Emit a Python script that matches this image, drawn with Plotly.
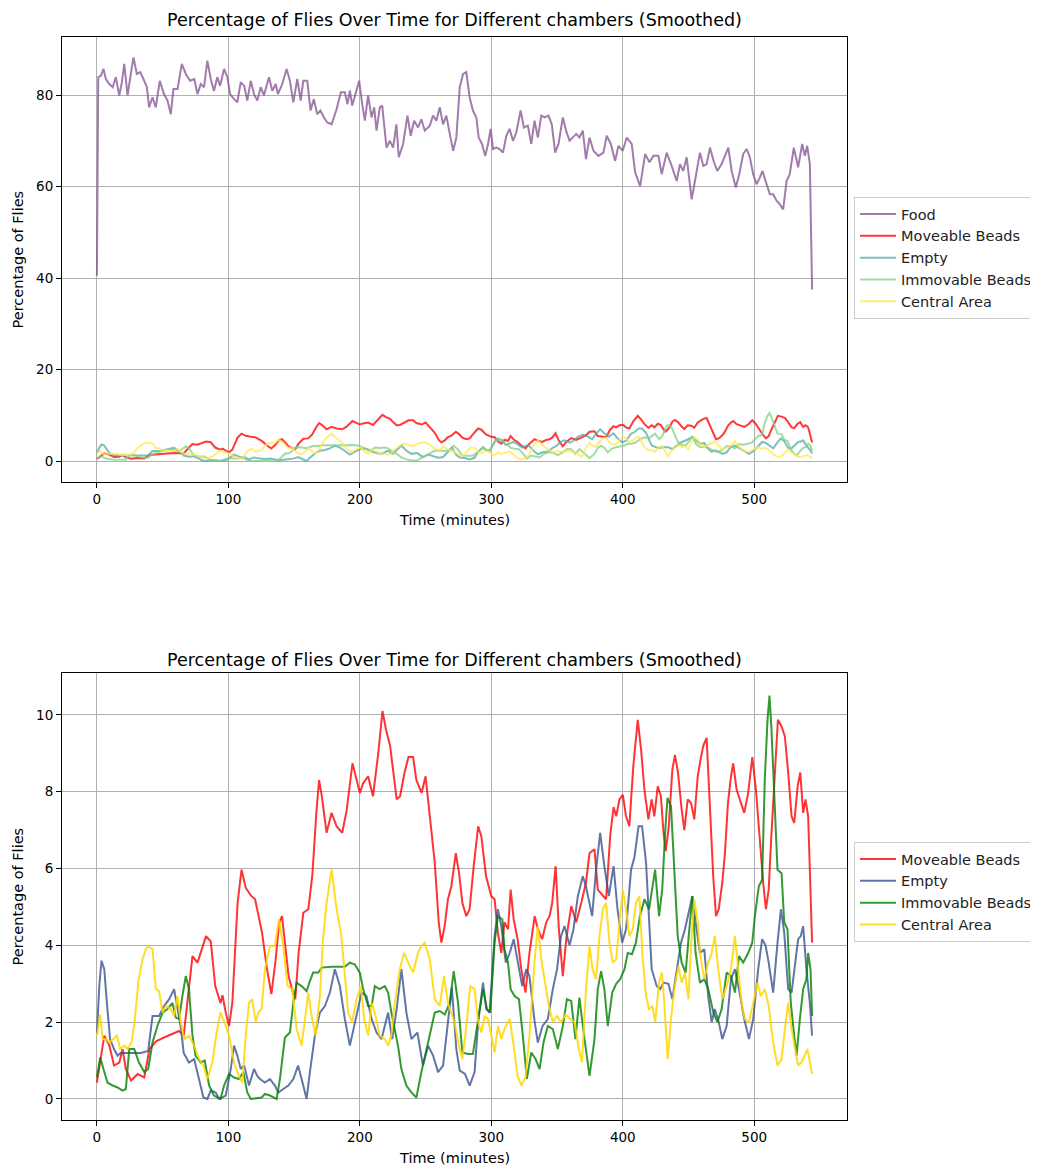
import plotly.graph_objects as go

# ---------------- data (time in minutes, percentage of flies) ----------------
FOOD = [(0,40.5),(0.5,83),(1,83.9),(3,84.2),(5,85.7),(6.8,83.5),(9.4,82.4),(12,81.7),(14.4,83.9),(17,79.9),(19,82.8),(20.8,86.8),(23.3,79.9),(25.8,84.6),(27.8,88.2),(30.4,84.6),(32.9,85),(35.4,83.5),(38,81.7),(39.7,77.3),(42.3,79.5),(44.8,77.3),(47.8,83.1),(51,80.2),(53.7,78.8),(56.2,75.8),(58.2,81.3),(61.3,81.3),(64.6,86.8),(67.6,84.6),(70.9,83.1),(74,83.5),(76.5,80.2),(79,82.4),(81.5,81.7),(84,87.5),(86.6,83.5),(89,80.9),(91.6,83.9),(93.7,82),(96.7,85.7),(99.2,83.9),(101.3,80.2),(104.3,79.1),(106.8,78.4),(109.4,82.8),(112,82),(114.4,78.8),(117,83.1),(119.5,80.2),(122,78.8),(124.6,81.7),(127,79.9),(130.9,83.9),(133.4,80.9),(136,82.4),(137.7,80.2),(141,82.4),(144.3,85.7),(146.8,83.1),(149.4,78.4),(152.4,83.5),(155,78.8),(157,83.1),(160,83.1),(162.5,76.6),(165,79.1),(167.6,75.8),(170,76.6),(172.7,75.1),(175.2,74),
        (178.5,73.6),(182.3,76.9),(185.6,80.6),(188.6,80.6),(190.6,78),(192.4,81),(194.2,77.7),(196.7,80.2),(199.5,83.1),(201.8,78),(203.8,74.4),(206.3,79.9),(208.9,75.1),(210.9,77.3),(212.7,72.2),(215.2,77.3),(217,77.7),(220.3,68.5),(222.8,70),(225.3,68.5),(227.8,73.6),(229.6,66.4),(232.9,69.3),(236.2,75.5),(238.7,71.1),(241.3,74.4),(244.3,72.9),(246.8,74.7),(249.4,72.2),(253.2,73.3),(255.7,75.5),(258.2,74.4),(260.8,77.3),(263.3,73.6),(265.8,75.5),(268.4,71.5),(271,67.8),(273.4,70.7),(276,81.7),(278.5,84.6),(281,85),(283.5,79.5),(286,76.6),(288.6,75.1),(290.4,70.7),(292.9,69.3),(295.4,66.7),(297.5,69.3),(299.5,72.6),(301.3,68.2),(303.8,68.5),(306.3,68.2),(308.9,67.4),(311.4,71.1),(313.9,72.6),(316.5,70),(319,71.8),(322.3,76.6),(324.8,72.9),(327.8,73.3),(330.4,69.3),(332.9,74.4),(335.4,70.7),(338,75.5),(340.5,75.1),(343.5,75.5),(346,73.6),(348.6,67.4),(351.1,69.3),(354.4,75.1),(356.9,72.2),(359.5,70),(362,70.7),(364.6,71.5),(367,70.7),(369.6,72.2),(372,66),(374.7,70.7),
        (377.7,67.8),(381.5,66.7),(385.3,67.4),(387.8,71.1),(390.9,69.3),(394.2,65.6),(396.7,68.9),(400,67.8),(403,70.7),(406.8,69.3),(409.4,63.1),(413.2,60.1),(417,67.1),(420.3,65.3),(423.3,66.7),(427.1,66.7),(429.6,62.7),(433.4,67.4),(437.2,64.5),(441,61.2),(443.5,64.9),(446,63.4),(448.6,66.4),(450.6,61.2),(452.4,57.2),(454.9,61.2),(458.7,67.4),(461.3,64.5),(463.8,64.9),(466.3,68.5),(469.4,65.3),(471.9,63.4),(475.2,64.9),(477.7,66.7),(480.3,68.5),(482.8,63.4),(486,59.8),(488.6,62.7),(491.6,67.1),(494.2,68.2),(496.7,66.4),(499.2,62.7),(501.8,60.5),(504.3,62),(506.3,63.4),(509.4,60.5),(511.9,58.3),(514.4,58.3),(517,56.9),(519.5,56.1),(522,55),(524.6,61.2),(527,62.7),(530.1,68.5),(533.4,64.2),(536.5,69.3),(538.5,66.7),(540.3,68.9),(542.3,64.9),(544,37.5)]

MOVEABLE_T = [0, 4.3, 5.6, 9.4, 13, 17, 19.5, 22, 26, 31, 36, 40, 45, 51, 59, 62.5, 66, 70, 72.7, 76.5, 80, 83, 86.6, 90, 94, 95.5, 98, 100.5, 103, 107, 110, 113.2, 117, 120.3, 123, 125.6, 129.4, 132.7, 135.7, 138.7, 140.8, 143.3, 145.8, 148.4, 150.9, 153.4, 157, 160.8, 163.8, 167, 169, 171, 174.7, 178.5, 182.3, 186.6, 189.9, 194.4, 197.5, 200, 202.5, 206.3, 210, 214, 217.2, 220, 223, 225.6, 228, 230.6, 234, 237, 240.5, 243, 247, 250, 253, 257, 260, 262, 264.5, 267, 269.6, 273, 275.4, 278, 281, 283.5, 286.6, 290, 292.4, 296, 300, 302.5, 305, 307.6, 310, 312.7, 314.7, 317, 320, 322.8, 326, 329, 333, 335.4, 338.7, 341.8, 344.3, 346.3, 348.9, 351.4, 354.4, 357, 360.8, 364.6, 368.4, 372, 374.7, 378.5, 381, 384.8, 387.3, 390.4, 393, 395, 397.5, 400, 402.5, 405, 408, 411.4, 413.9, 416.5, 419.5, 422, 424, 426.6, 429, 431, 432.7, 435, 437.7, 439.7, 442, 444.8, 446.8, 449.4, 452, 454.4, 457, 459.5, 461.3, 463.8, 466.3, 468.8, 470.9, 473, 475.7, 477.7, 480, 482.3, 484, 486.6, 489, 492.4, 495.4, 498.5, 501.3, 504.3, 506.8, 508.9, 511, 513, 515.7, 518, 520.8, 523.3, 525.8, 528.4, 530.4, 533, 535, 537.2, 539, 541, 542.3, 544]
MOVEABLE_V = [0.43, 1.3, 1.65, 1.4, 0.87, 0.95, 1.3, 0.78, 0.48, 0.65, 0.56, 1.3, 1.5, 1.6, 1.73, 1.77, 1.65, 2.94, 3.72, 3.55, 3.9, 4.24, 4.1, 2.94, 2.5, 2.7, 2.25, 1.9, 2.5, 5.1, 5.97, 5.5, 5.3, 5.2, 4.76, 4.33, 3.38, 2.73, 3.55, 4.6, 4.76, 3.98, 3.2, 2.86, 2.6, 3.8, 4.85, 4.94, 5.8, 7.5, 8.3, 7.9, 6.93, 7.45, 7.1, 6.93, 7.5, 8.74, 8.3, 7.97, 8.22, 8.4, 7.88, 9.0, 10.1, 9.6, 9.2, 8.4, 7.8, 7.88, 8.5, 8.9, 8.9, 8.3, 7.97, 8.4, 7.45, 6.15, 4.6, 4.07, 4.5, 5.2, 5.54, 6.4, 5.9, 5.1, 4.76, 4.94, 6.06, 7.1, 6.84, 5.8, 5.28, 5.2, 4.33, 3.8, 4.6, 4.42, 5.45, 4.68, 4.16, 3.38, 2.77, 3.8, 4.76, 4.42, 4.16, 4.6, 4.76, 5.1, 6.06, 4.42, 3.2, 4.16, 5.02, 4.6, 5.1, 5.63, 6.4, 6.5, 5.45, 5.28, 5.2, 6.84, 7.6, 7.36, 7.8, 7.92, 7.36, 7.1, 8.66, 9.87, 9.1, 8.05, 7.28, 7.8, 7.36, 8.14, 7.88, 6.93, 6.45, 7.1, 8.57, 8.96, 8.5, 7.53, 7.0, 7.8, 7.7, 7.28, 8.4, 8.9, 9.2, 9.4, 7.7, 5.8, 4.76, 4.94, 5.63, 6.4, 7.7, 8.4, 8.74, 8.05, 7.8, 7.45, 7.97, 8.9, 8.05, 6.58, 5.63, 4.94, 5.45, 6.84, 8.57, 9.87, 9.7, 9.44, 8.5, 7.36, 7.19, 8.14, 8.5, 7.45, 7.8, 7.36, 5.97, 4.07]

EMPTY_T = [0, 1.8, 3.5, 5.6, 7.6, 10, 13, 15.7, 18, 22, 27, 33.4, 39, 42.3, 47.3, 51, 55, 58.7, 61, 64, 66, 70, 74, 77.7, 81, 84, 86.6, 90.4, 93, 98, 101.8, 104.3, 106.8, 109.4, 112, 115.7, 119.5, 122, 124, 127.8, 131.6, 135.4, 138, 141.8, 145.6, 149.4, 153, 155.7, 159.5, 162, 165.8, 169.6, 173.4, 177.2, 181, 184.8, 188.6, 192.4, 196.2, 201.3, 205, 209, 212.7, 216.5, 221.5, 224.6, 228, 231.6, 235.4, 239.2, 243.8, 248, 252, 255.7, 259.5, 263.3, 267, 270, 273.4, 276, 280, 283.5, 287.3, 290, 293.7, 296.2, 298.7, 302.5, 305, 307.6, 311, 314, 317, 320, 323.5, 326.6, 329, 333, 335.4, 339, 343, 346.8, 350, 353, 355.7, 359.5, 362.5, 365.8, 369.6, 372, 376.7, 379.7, 382.8, 386, 389.4, 393, 396, 399.5, 402.5, 406.3, 408.9, 412, 414.7, 417.7, 419, 422, 425.8, 428.4, 431, 434.7, 437.7, 441, 444.3, 447.3, 450.4, 452.9, 455.4, 458.7, 462, 465, 467.6, 470, 473, 475.7, 479, 482.3, 485.3, 488.4, 492.4, 496, 499.2, 503, 506, 508.6, 511, 514.4, 517.7, 520.3, 522.8, 525.8, 528.4, 531, 533.4, 535.4, 537.2, 539.7, 542.3, 544]
EMPTY_V = [1.7, 2.94, 3.6, 3.38, 2.5, 1.56, 1.3, 1.13, 1.2, 1.2, 1.2, 1.2, 1.25, 2.16, 2.16, 2.42, 2.6, 2.86, 2.42, 1.82, 1.2, 0.95, 1.04, 0.52, 0.04, 0, 0.22, 0.17, 0, 0.09, 0.78, 1.39, 1.13, 0.78, 0.87, 0.35, 0.78, 0.6, 0.52, 0.43, 0.52, 0.35, 0.17, 0.26, 0.35, 0.52, 0.87, 0.52, 0, 0.7, 1.65, 2.25, 2.42, 2.77, 3.38, 2.94, 2.08, 1.39, 2.0, 2.77, 2.68, 2.08, 1.73, 1.56, 2.25, 1.56, 2.34, 3.38, 2.25, 1.56, 1.73, 0.87, 1.39, 1.13, 0.7, 0.87, 2.0, 2.9, 1.3, 0.74, 0.65, 0.35, 0.7, 2.0, 3.03, 2.34, 2.25, 4.24, 4.94, 4.5, 3.55, 3.8, 4.16, 3.64, 2.94, 3.38, 3.2, 2.0, 1.47, 1.9, 2.08, 2.86, 3.38, 4.24, 4.5, 4.0, 4.42, 5.28, 5.8, 5.54, 4.76, 5.97, 6.93, 6.06, 5.28, 6.06, 4.94, 4.07, 4.42, 5.97, 6.3, 7.1, 7.1, 6.15, 5.3, 3.38, 2.94, 2.86, 3.03, 3.0, 2.6, 3.38, 4.07, 4.42, 4.94, 5.28, 4.6, 3.8, 3.9, 2.68, 2.0, 2.34, 2.0, 1.56, 1.9, 3.12, 3.38, 2.86, 2.08, 1.56, 2.08, 3.38, 4.16, 4.0, 3.55, 2.77, 4.07, 4.94, 4.33, 2.86, 2.77, 3.55, 4.16, 4.24, 4.5, 3.38, 2.5, 1.65]

IMMOVABLE = [(0,0.56),(2.5,1.08),(5,0.78),(8,0.43),(12,0.35),(15.7,0.3),(19.5,0.22),(22,0.26),(24.6,1.3),(28.4,1.3),(32,0.95),(36,0.7),(39,0.78),(42.3,1.47),(46,1.9),(50,2.25),(53.7,2.34),(57.5,2.5),(60,2.12),(62.5,2.08),(65,2.68),(67.6,3.2),(70,2.86),(72.7,1.65),(75,1.13),(79,0.95),(82,1.0),(85.3,0.35),(89,0.09),(94,0),(96.7,0.35),(100.5,0.65),(104.3,0.56),(108,0.52),(111.4,0.7),(114.4,0.17),(117,0),
             (125.3,0.04),(127.8,0.13),(131.6,0.09),(136.7,0),(139.2,0.52),(143,1.6),(146.8,1.73),(149.4,2.5),(151.9,3.03),(155.7,2.94),(159.5,2.81),(162,3.07),(164.5,3.29),(168.4,3.29),(171,3.42),(178.5,3.44),(188.6,3.44),(192.4,3.55),(196.2,3.5),(200,3.29),(202.5,2.86),(206.3,2.42),(209,2.42),(211.4,2.94),(215,2.86),(219,2.94),(221.5,2.77),(224,2.25),(226.6,1.82),(229,1.39),(231.6,0.78),(235.4,0.35),(239.2,0.17),(243,0.04),(246.8,0.7),(250.6,1.3),(254.4,1.82),(257,2.25),(260.8,2.29),(264.6,2.2),(268.4,2.5),
             (271.4,3.33),(274.7,2.5),(278,1.21),(282.3,1.17),(286,1.17),(290,2.08),(293.7,2.86),(296.7,2.34),(299.2,2.25),(302.5,4.07),(305,4.76),(308.4,4.68),(310,3.9),(312.7,3.55),(314.7,2.86),(317.7,2.68),(321,2.6),(324,1.65),(327,0.52),(330.4,1.21),(333.7,1.04),(336.7,0.78),(339.7,1.47),(343,1.9),(346.8,1.82),(350.6,1.3),(354.4,1.9),(357.5,2.6),(360.8,2.55),(364,1.56),(367,2.64),(370.9,1.56),(374.7,0.6),(378.5,1.56),(381,2.86),(383.5,3.33),(386,2.86),(388.6,1.9),(392,2.77),(395,3.0),(398,3.12),(401.3,3.38),(403.8,3.8),(407,3.77),(410,4.07),(413,4.76),(416.5,5.2),
             (420,4.94),(422.5,5.54),(424.6,5.97),(427.6,4.76),(430,5.45),(432.2,6.93),(434,7.84),(436.7,7.62),(439.2,5.97),(441.8,4.24),(444.8,3.55),(447.8,3.29),(450.4,4.33),(452.9,5.28),(455.4,3.8),(458.7,3.03),(462,3.12),(465,2.86),(468.9,2.25),(472,2.0),(475.2,2.34),(479,3.29),(482.3,3.2),(485.3,2.77),(488.4,3.72),(491.6,3.55),(495.4,3.8),(498.5,4.07),(500.5,4.76),(503.5,5.54),(506,5.71),(508,8.3),(510.1,9.87),(511.6,10.5),(513,9.7),(515.2,7.88),(517.7,5.97),(520.8,5.88),(522.8,4.6),(525.3,4.42),(527.8,2.5),(530.4,1.65),(532.2,1.13),(534.7,2.08),(537.2,2.86),(539.7,3.12),(541,3.8),(542.8,3.38),(544,2.16)]

CENTRAL = [(0,1.65),(1,1.9),(2.5,2.2),(4.3,1.56),(6.8,1.56),(9.4,1.47),(12,1.56),(15.2,1.65),(17.7,1.3),(20.8,1.39),(23.3,1.3),(26.3,1.47),(28.9,2.08),(31.4,3.03),(34.7,3.64),(37.2,3.9),(39,3.98),(42.3,3.9),(44.8,2.86),(47.3,2.81),(49.9,2.25),(52.4,2.42),(56.2,2.34),(58.7,2.16),(61.3,2.68),(63.8,2.0),(66.3,1.56),(70,1.65),(74,1.39),(77.7,1.04),(81,0.87),(84,0.52),(87.8,0.95),(91,1.73),(94,2.25),(97,2.0),(100.5,1.65),(104.3,0.95),(108,0.6),(110.6,0.43),(113.2,1.65),(115.7,2.5),(118,2.6),(120.8,2.0),
           (122.8,2.25),(125.3,2.34),(127.8,3.38),(131.6,3.98),(135.4,3.98),(138.5,4.68),(141.8,3.98),(145,2.94),(148.6,2.86),(151.9,1.82),(155.7,1.39),(158.2,2.0),(160.8,2.77),(163.3,2.16),(166.3,1.65),(169.6,2.68),(172,4.16),(174.7,5.1),(178.5,5.97),(182.3,4.94),(185.6,4.33),(188,3.46),(191.1,2.25),(194.2,2.0),(197.5,2.6),(200.8,2.94),(203.3,2.08),(206.3,1.65),(209,2.5),(212,2.16),(215,1.65),(219,1.56),(221.5,1.39),(224,1.65),(226.6,2.5),(230.4,3.38),(233.7,3.81),(236.7,3.55),(240.5,3.29),(244.3,3.81),(246.8,3.98),(249.4,4.07),(253.2,3.64),(257,2.6),(260.8,2.42),(264,3.2),(267,2.5),
           (272,2.0),(275.4,1.39),(278,1.04),(281,1.9),(284,2.94),(287.3,2.86),(290,2.0),(292.4,1.73),(295,2.16),(297.5,2.08),(300,1.65),(302.5,1.21),(305,1.9),(307.6,1.56),(310,1.82),(314,2.08),(317,1.39),(320,0.6),(322.8,0.35),(326,0.56),(329,1.65),(333,3.64),(335.4,4.5),(338,3.64),(341.3,2.94),(343.8,2.42),(346.8,2.0),(349.9,2.16),(353,2.0),(356.5,2.2),(360,2.08),(363.3,2.0),(366.6,1.3),(369,0.95),(372,2.86),(374.7,3.98),(377,3.38),(379.7,3.12),(382.3,4.24),(384.8,4.94),(387.3,5.1),(389.9,4.07),(392.4,3.55),(395,3.64),(397.5,4.6),(400,5.45),(402.5,4.94),(405,4.24),(407.6,4.42),(410,5.1),(412.6,5.28),(415,3.72),(417.7,2.68),
           (420,2.34),(422.5,2.42),(424.6,2.0),(427.6,3.03),(429.7,3.29),(431.6,2.5),(434.2,1.04),(436.7,2.08),(439.2,2.86),(442.3,3.46),(444.8,3.03),(447.3,3.29),(449.9,2.6),(452.4,4.24),(454.4,5.2),(457,4.6),(458.7,3.8),(462,3.12),(465,3.55),(467.6,3.8),(470,4.24),(472.6,3.38),(475.7,2.6),(479,2.94),(482.3,3.38),(485.3,4.24),(487.8,3.38),(490.4,2.5),(492.9,2.08),(496,2.0),(499.2,2.5),(502.5,3.03),(505,2.68),(508.1,2.86),(511,2.42),(514.4,1.47),(517.7,0.87),(520.8,1.04),(523.3,1.82),(525.8,2.5),(528.4,1.82),(531,1.3),(533.4,0.87),(536,0.95),(538.5,1.13),(540.5,1.3),(542.3,0.95),(544,0.65)]

X_TICKS = [0, 100, 200, 300, 400, 500]
Y_TICKS_TOP = [0, 20, 40, 60, 80]
Y_TICKS_BOTTOM = [0, 2, 4, 6, 8, 10]
TITLE = "Percentage of Flies Over Time for Different chambers (Smoothed)"

assert len(MOVEABLE_T) == len(MOVEABLE_V)
assert len(EMPTY_T) == len(EMPTY_V)

def unzip(pairs):
    return [p[0] for p in pairs], [p[1] for p in pairs]

food_t, food_v = unzip(FOOD)
imm_t, imm_v = unzip(IMMOVABLE)
cen_t, cen_v = unzip(CENTRAL)

FONT = "DejaVu Sans"
OFF = 8                      # page body margin in the browser
W, H = 1038 - OFF, 1170 - OFF

def fx(px):
    return (px - OFF) / W

def fy(py):
    return 1 - (py - OFF) / H

fig = go.Figure()

def line(x, y, name, color, xa, ya, legend, width=2):
    fig.add_trace(go.Scatter(x=x, y=y, mode="lines", name=name,
                             line=dict(color=color, width=width),
                             xaxis=xa, yaxis=ya, legend=legend))

# top panel
line(food_t, food_v, "Food", "rgba(136,86,150,0.78)", "x", "y", "legend")
line(MOVEABLE_T, MOVEABLE_V, "Moveable Beads", "rgba(255,0,0,0.78)", "x", "y", "legend")
line(EMPTY_T, EMPTY_V, "Empty", "rgba(80,170,170,0.75)", "x", "y", "legend")
line(imm_t, imm_v, "Immovable Beads", "rgba(130,208,130,0.75)", "x", "y", "legend")
line(cen_t, cen_v, "Central Area", "rgba(255,232,80,0.75)", "x", "y", "legend")

# bottom panel
line(MOVEABLE_T, MOVEABLE_V, "Moveable Beads", "rgba(255,0,0,0.8)", "x2", "y2", "legend2")
line(EMPTY_T, EMPTY_V, "Empty", "rgba(58,82,145,0.8)", "x2", "y2", "legend2")
line(imm_t, imm_v, "Immovable Beads", "rgba(0,128,0,0.8)", "x2", "y2", "legend2")
line(cen_t, cen_v, "Central Area", "rgba(255,215,0,0.85)", "x2", "y2", "legend2")

x_dom = [fx(62), fx(848)]
top_dom = [fy(482), fy(37)]
bot_dom = [fy(1120), fy(673)]

axis_common = dict(showline=True, mirror=True, linecolor="black", linewidth=1,
                   showgrid=True, gridcolor="#b0b0b0", gridwidth=1, zeroline=False,
                   ticks="outside", ticklen=5, tickcolor="black",
                   tickfont=dict(family=FONT, size=13.5, color="black"),
                   automargin=False)

legend_common = dict(xanchor="left", yanchor="top",
                     bordercolor="#cccccc", borderwidth=1, bgcolor="white",
                     font=dict(family=FONT, size=14.5, color="#222"), itemwidth=36,
                     tracegroupgap=0)

fig.update_layout(
    width=W, height=H, plot_bgcolor="white", paper_bgcolor="white",
    margin=dict(l=0, r=0, t=0, b=0),
    font=dict(family=FONT, size=13.5, color="black"),
    xaxis=dict(domain=x_dom, anchor="y", range=[-26.6, 570.7], tickvals=X_TICKS, **axis_common),
    yaxis=dict(domain=top_dom, anchor="x", range=[-4.59, 92.68], tickvals=Y_TICKS_TOP, **axis_common),
    xaxis2=dict(domain=x_dom, anchor="y2", range=[-26.6, 570.7], tickvals=X_TICKS, **axis_common),
    yaxis2=dict(domain=bot_dom, anchor="x2", range=[-0.547, 11.09], tickvals=Y_TICKS_BOTTOM, **axis_common),
    legend=dict(x=fx(855), y=fy(197), **legend_common),
    legend2=dict(x=fx(855), y=fy(842), **legend_common),
    showlegend=True,
)

ann = []
cx = fx((62 + 848) / 2)
for ytitle, yxl, ymid in [(20, 520, (37 + 482) / 2), (660, 1158, (673 + 1120) / 2)]:
    ann.append(dict(text=TITLE, x=cx, y=fy(ytitle), xref="paper", yref="paper",
                    showarrow=False, font=dict(family=FONT, size=17.5, color="black"),
                    xanchor="center", yanchor="middle"))
    ann.append(dict(text="Time (minutes)", x=cx, y=fy(yxl), xref="paper", yref="paper",
                    showarrow=False, font=dict(family=FONT, size=14.5, color="black"),
                    xanchor="center", yanchor="middle"))
    ann.append(dict(text="Percentage of Flies", x=fx(18), y=fy(ymid), xref="paper", yref="paper",
                    showarrow=False, textangle=-90, font=dict(family=FONT, size=14.5, color="black"),
                    xanchor="center", yanchor="middle"))
fig.update_layout(annotations=ann)

fig.write_html("out.html")
